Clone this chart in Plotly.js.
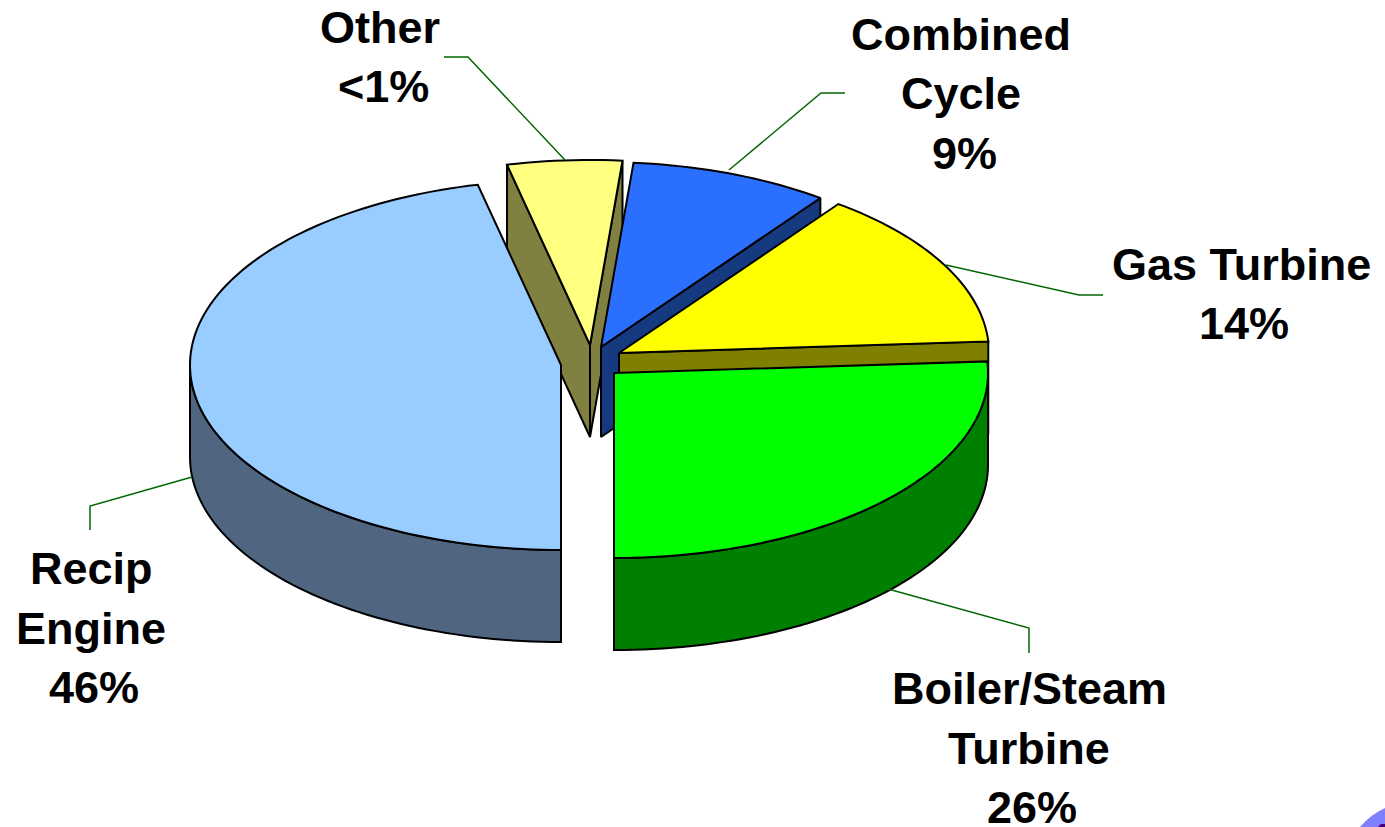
<!DOCTYPE html>
<html>
<head>
<meta charset="utf-8">
<script src="https://cdn.plot.ly/plotly-3.0.1.min.js"></script>
<style>html,body{margin:0;padding:0;background:#fff;overflow:hidden}#chart{width:1385px;height:827px}</style>
</head>
<body>
<div id="chart"></div>
<script>
// Data: clockwise from 6 o'clock, wedge shares as drawn (percent of the circle)
const categories = ['Recip Engine', 'Other', 'Combined Cycle', 'Gas Turbine', 'Boiler/Steam Turbine'];
const wedgeShares = [46.4, 5.0, 8.7, 13.9, 26.0];
const labelTexts = [['Recip', 'Engine', '46%'], ['Other', '<1%'], ['Combined', 'Cycle', '9%'], ['Gas Turbine', '14%'], ['Boiler/Steam', 'Turbine', '26%']];

// Styles
const topColors = ['#99CCFF', '#FFFF80', '#2B6FFF', '#FFFF00', '#00FF00'];
const sideColors = ['#4F6580', '#808040', '#163A80', '#808000', '#008000'];

// Layout of the exploded, tilted pie (pixels of the page)
const centers = [[561, 365], [590, 345], [601, 347], [619, 353], [614, 373]];
const radiiX = [371, 370, 370, 370, 374];
const radiusY = 185;
const depthOf = [92, 92, 90, 92, 92];
const labelAnchors = [[91, 568.5], [380, 27], [961, 34], [1241, 264], [1029, 688.5]];
const lineStep = 59.5;
const percentNudge = 3;
const leaders = [
  [[90, 530], [90, 506], [192, 477]],
  [[444, 57], [468, 57], [565, 160]],
  [[845, 93], [821, 93], [729, 170]],
  [[1103, 295], [1079, 295], [946, 265]],
  [[1029, 653], [1029, 628], [888, 589]]
];

const pt = (i, deg, dy = 0) => {
  const a = deg * Math.PI / 180;
  return [centers[i][0] + radiiX[i] * Math.sin(a), centers[i][1] - radiusY * Math.cos(a) + dy];
};
const arc = (i, from, to, dy = 0) => {
  const n = Math.max(2, Math.ceil(Math.abs(to - from) / 1.5));
  const pts = [];
  for (let k = 0; k <= n; k++) pts.push(pt(i, from + (to - from) * k / n, dy));
  return pts;
};
const poly = (pts, color, name) => ({
  type: 'scatter', mode: 'lines', x: pts.map(p => p[0]).concat(pts[0][0]), y: pts.map(p => p[1]).concat(pts[0][1]),
  fill: 'toself', fillcolor: color, line: {color: '#000', width: 2, simplify: false}, hoverinfo: 'skip', name: name, showlegend: false
});

// Slice angles derived from the shares
const spans = [];
let acc = 180;
wedgeShares.forEach(v => { spans.push([acc, acc + v * 3.6]); acc += v * 3.6; });

const topFace = i => poly([centers[i]].concat(arc(i, spans[i][0], spans[i][1])), topColors[i], categories[i]);
const tip = (i, dy = 0) => [centers[i][0], centers[i][1] + dy];
const cutFace = (i, deg) => poly([tip(i), pt(i, deg), pt(i, deg, depthOf[i]), tip(i, depthOf[i])], sideColors[i], categories[i]);
const rimFace = (i, from, to) => poly(arc(i, from, to).concat(arc(i, to, from, depthOf[i])), sideColors[i], categories[i]);

const [RECIP, OTHER, CC, GAS, BOILER] = [0, 1, 2, 3, 4];
const traces = [
  cutFace(OTHER, spans[OTHER][1]),
  cutFace(OTHER, spans[OTHER][0]),
  topFace(OTHER),
  cutFace(CC, spans[CC][1]),
  topFace(CC),
  cutFace(GAS, spans[GAS][1]),
  topFace(GAS),
  rimFace(RECIP, 180, 270),
  topFace(RECIP),
  rimFace(BOILER, 90, 180),
  topFace(BOILER)
];

const annotations = [];
labelTexts.forEach((lines, i) => lines.forEach((t, j) => annotations.push({
  xref: 'x', yref: 'y',
  x: labelAnchors[i][0] + (t.endsWith('%') ? percentNudge : 0),
  y: labelAnchors[i][1] + j * lineStep,
  text: t.replace('<', '&lt;'), showarrow: false, xanchor: 'center', yanchor: 'middle',
  font: {family: 'Liberation Sans, Arial, sans-serif', size: 45, color: '#000', weight: 700}
})));

const shapes = leaders.map(l => ({
  type: 'path', xref: 'x', yref: 'y', layer: 'above',
  path: 'M' + l.map(p => p.join(',')).join(' L'), line: {color: '#006600', width: 1.5}
}));
// Fragment of decoration in the lower right corner of the slide
shapes.push({type: 'path', xref: 'x', yref: 'y', layer: 'above', fillcolor: '#8080FF', line: {width: 0},
  path: 'M1360,827 Q1370,815 1385,808 L1385,827 Z'});
shapes.push({type: 'path', xref: 'x', yref: 'y', layer: 'above', fillcolor: '#400080', line: {width: 0},
  path: 'M1378,827 L1381,824 L1385,824 L1385,827 Z'});

Plotly.newPlot('chart', traces, {
  width: 1385, height: 827, margin: {l: 0, r: 0, t: 0, b: 0},
  paper_bgcolor: '#fff', plot_bgcolor: '#fff', showlegend: false,
  xaxis: {range: [0, 1385], visible: false, fixedrange: true},
  yaxis: {range: [827, 0], visible: false, fixedrange: true},
  annotations: annotations, shapes: shapes
}, {displayModeBar: false, staticPlot: true});
</script>
</body>
</html>
